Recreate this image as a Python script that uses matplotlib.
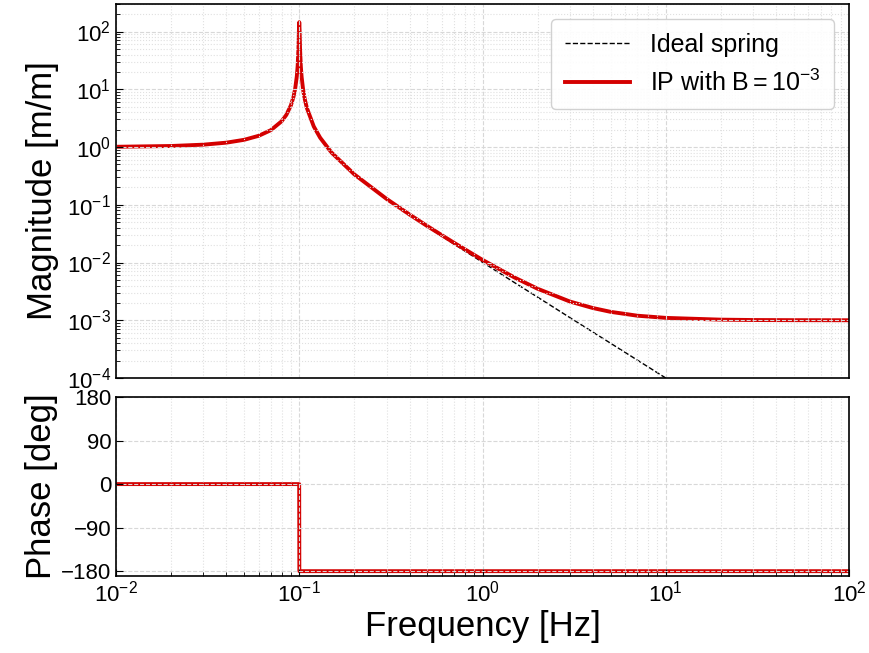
import numpy as np
import matplotlib.pyplot as plt

# frequency points [Hz] and magnitudes
freq = [0.01, 0.02, 0.03, 0.04, 0.05, 0.06, 0.07, 0.08, 0.085, 0.09,
        0.093, 0.095, 0.097, 0.098, 0.099, 0.0995, 0.1, 0.1005, 0.101, 0.102,
        0.103, 0.105, 0.107, 0.11, 0.12, 0.13, 0.15, 0.2, 0.3, 0.4,
        0.5, 0.7, 1.0, 1.5, 2.0, 3.0, 4.0, 5.0, 7.0, 10.0,
        20.0, 30.0, 50.0, 100.0]

mag_ideal = [1.01, 1.042, 1.099, 1.19, 1.333, 1.563, 1.96, 2.78, 3.60, 5.26,
             7.40, 10.26, 16.9, 25.3, 50.3, 100.3, 145.0, 99.8, 49.8, 24.8,
             16.4, 9.76, 6.90, 4.76, 2.27, 1.45, 0.80, 0.333, 0.125, 0.0667,
             0.0417, 0.0208, 0.0101, 0.00446, 0.00251, 0.00111, 6.25e-4, 4.0e-4, 2.04e-4, 1.0e-4,
             2.5e-5, 1.11e-5, 4.0e-6, 1.0e-6]

mag_ip = [1.01, 1.042, 1.099, 1.19, 1.333, 1.563, 1.96, 2.78, 3.60, 5.26,
          7.40, 10.26, 16.9, 25.3, 50.3, 100.3, 145.0, 99.8, 49.8, 24.8,
          16.4, 9.76, 6.90, 4.76, 2.27, 1.45, 0.802, 0.335, 0.126, 0.0677,
          0.0427, 0.0219, 0.0111, 0.00547, 0.00351, 0.00211, 0.00163, 0.0014, 0.0012, 0.0011,
          0.001025, 0.00101, 0.001004, 0.001001]

phase_freq = [0.01, 0.0999, 0.1001, 100.0]
phase_ideal = [0, 0, -180, -180]
phase_ip = [0, 0, -180, -180]

plt.rcParams['font.family'] = ['Liberation Sans', 'DejaVu Sans']
plt.rcParams['mathtext.fontset'] = 'custom'
plt.rcParams['mathtext.rm'] = 'Liberation Sans'
plt.rcParams['mathtext.it'] = 'Liberation Sans:italic'

fig = plt.figure(figsize=(8.69, 6.53), dpi=100)
ax1 = fig.add_axes([0.1335, 0.4211, 0.8435, 0.5728])
ax2 = fig.add_axes([0.1335, 0.1179, 0.8435, 0.2741], sharex=ax1)

red = '#d40000'

ax1.loglog(freq, mag_ideal, '--', color='k', lw=1.0, label='Ideal spring')
ax1.loglog(freq, mag_ip, '-', color=red, lw=2.8, label=r'IP with $\mathrm{B}=10^{-3}$')
ax1.set_ylim(1e-4, 3e2)
ax1.set_xlim(1e-2, 1e2)
ax1.set_ylabel('Magnitude [m/m]', fontsize=25, labelpad=6)
ax1.legend(loc='upper right', fontsize=18, fancybox=True, framealpha=0.9,
           edgecolor='#cccccc', handlelength=2.6, borderpad=0.55,
           borderaxespad=0.6)
plt.setp(ax1.get_xticklabels(), visible=False)

ax2.semilogx(phase_freq, phase_ideal, '--', color='k', lw=1.0)
ax2.semilogx(phase_freq, phase_ip, '-', color=red, lw=2.8)
ax2.set_ylim(-190, 180)
ax2.set_yticks([-180, -90, 0, 90, 180])
ax2.set_ylabel('Phase [deg]', fontsize=25, labelpad=2)
ax2.set_xlabel('Frequency [Hz]', fontsize=25, labelpad=2)

for ax in (ax1, ax2):
    ax.set_axisbelow(False)
    ax.grid(True, which='major', ls='--', color='#d8d8d8', lw=0.8)
    ax.grid(True, which='minor', ls=':', color='#e0e0e0', lw=0.8)
    ax.tick_params(which='both', direction='in', labelsize=16)
    ax.tick_params(which='major', length=5)
    ax.tick_params(which='minor', length=3)
    for s in ax.spines.values():
        s.set_linewidth(1.2)
        s.set_zorder(5)

ax1.tick_params(axis='x', which='both', length=0)

fig.savefig('out.png', dpi=100)
